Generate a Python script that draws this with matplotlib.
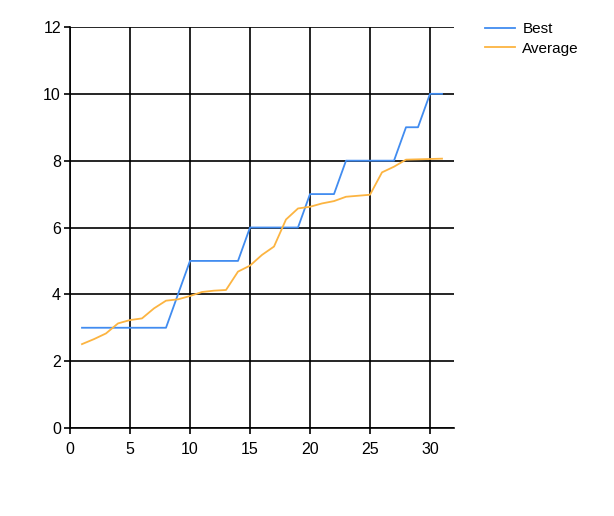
import matplotlib
matplotlib.use("Agg")
import matplotlib.pyplot as plt

generations = list(range(1, 32))
best = [3, 3, 3, 3, 3, 3, 3, 3, 4, 5, 5, 5, 5, 5, 6, 6, 6, 6, 6, 7, 7, 7, 8, 8, 8, 8, 8, 9, 9, 10, 10]
average = [2.51, 2.66, 2.83, 3.13, 3.23, 3.28, 3.58, 3.81, 3.85, 3.95,
           4.07, 4.11, 4.13, 4.68, 4.86, 5.18, 5.43, 6.24, 6.57, 6.62,
           6.72, 6.79, 6.92, 6.95, 6.98, 7.65, 7.82, 8.03, 8.04, 8.05, 8.06]
x_ticks = [0, 5, 10, 15, 20, 25, 30]
y_ticks = [0, 2, 4, 6, 8, 10, 12]

plt.rcParams['font.family'] = ['Liberation Sans', 'DejaVu Sans']

fig = plt.figure(figsize=(6.14, 5.16), dpi=100)
ax = fig.add_axes([70/614, 1-428/516, (454-70)/614, (428-27)/516])

ax.plot(generations, best, color='#418CF0', lw=1.3, label='Best', zorder=3)
ax.plot(generations, average, color='#FCB441', lw=1.3, label='Average', zorder=3)

ax.set_xlim(0, 32)
ax.set_ylim(0, 12)
ax.set_xticks(x_ticks)
ax.set_yticks(y_ticks)
ax.grid(True, color='black', lw=1.2)
ax.set_axisbelow(True)
for s in ['top', 'right']:
    ax.spines[s].set_visible(False)
for s in ['left', 'bottom']:
    ax.spines[s].set_linewidth(1.2)
ax.tick_params(axis='both', direction='out', length=4, width=1.2, labelsize=11.5,
               colors='black')
ax.tick_params(axis='x', pad=6)
ax.tick_params(axis='y', pad=2.5)

fig.legend(loc='upper left', bbox_to_anchor=(485/614, 1-22/516), frameon=False,
           fontsize=11, handlelength=1.95, handletextpad=0.5, labelspacing=0.36,
           borderaxespad=0, borderpad=0)

fig.savefig('out.png', dpi=100)
